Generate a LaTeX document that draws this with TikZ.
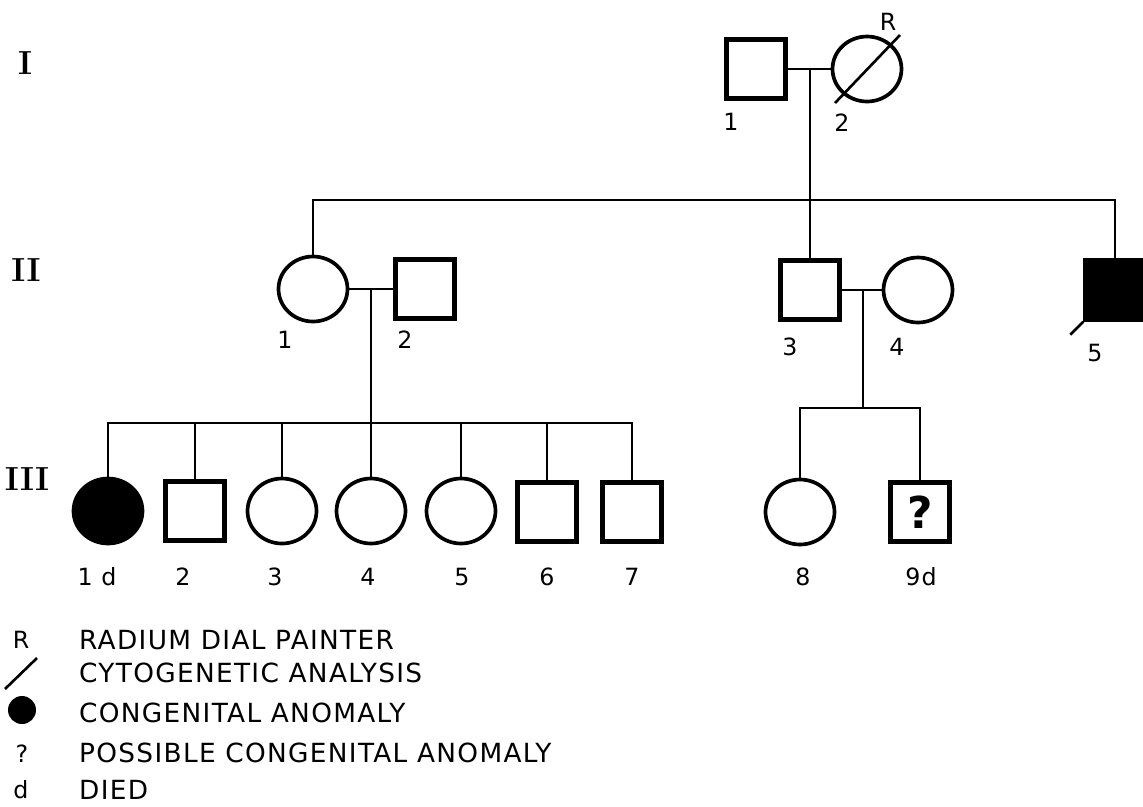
\documentclass[tikz,border=0pt]{standalone}
\usepackage{fontspec}
\setsansfont{DejaVu Sans}[LetterSpace=5]
\usetikzlibrary{shapes.geometric}

\begin{document}
\begin{tikzpicture}[x=0.02cm, y=-0.02cm, line width=1.5pt,
  male/.style={draw,rectangle,line width=2.5pt,minimum size=1.18cm,inner sep=0pt},
  female/.style={draw,ellipse,line width=2.1pt,minimum width=1.38cm,minimum height=1.30cm,inner sep=0pt},
  affected/.style={fill=black},
  num/.style={font=\sffamily\fontsize{13.5}{14}\selectfont},
  gen/.style={font=\rmfamily\bfseries\fontsize{19}{19}\selectfont},
  legend/.style={anchor=west,font=\sffamily\fontsize{15}{16}\selectfont}]
\useasboundingbox (0,0) rectangle (1143,806);
% generation labels
\node[gen] (gI) at (25,63) {I};
\node[gen] (gII) at (26,270) {II};
\node[gen] (gIII) at (27,479) {III};
% generation I
\node[male] (i1) at (756,69) {};
\node[female] (i2) at (867,69) {};
\coordinate (m1) at (810,69);
\draw (i1.east) -- (i2.west);
\draw (i2.center) ++(-32,34) -- ++(65,-68);
\node[num] at (731,122) {1};
\node[num] at (842,123) {2};
\node[num] at (888,22) {R};
% generation II
\node[female] (ii1) at (313,289) {};
\node[male] (ii2) at (425,289) {};
\node[male] (ii3) at (810,290) {};
\node[female] (ii4) at (918,290) {};
\node[male,affected] (ii5) at (1115,290) {};
\draw (ii5.south west) -- ++(-13,13);
\coordinate (s1) at (700,200);
\draw (m1) -- (ii3.north);
\draw (ii1.north) |- (s1) -| (ii5.north);
\coordinate (m2) at (371,289);
\coordinate (m3) at (863,290);
\draw (ii1.east) -- (ii2.west);
\draw (ii3.east) -- (ii4.west);
\node[num] at (285,340) {1};
\node[num] at (405,340) {2};
\node[num] at (790,347) {3};
\node[num] at (897,347) {4};
\node[num] at (1095,353) {5};
% generation III
\node[female,affected] (iii1) at (108,511) {};
\node[male] (iii2) at (195,511) {};
\node[female] (iii3) at (282,511) {};
\node[female] (iii4) at (371,511) {};
\node[female] (iii5) at (461,511) {};
\node[male] (iii6) at (547,512) {};
\node[male] (iii7) at (632,512) {};
\node[female] (iii8) at (800,512) {};
\node[male] (iii9) at (920,512) {\sffamily\bfseries\fontsize{25}{25}\selectfont ?};
\coordinate (s2) at (370,423);
\coordinate (s3) at (863,408);
\draw (m2) -- (iii4.north);
\draw (iii1.north) |- (s2) -| (iii7.north);
\foreach \k in {2,3,5,6}
  \draw (iii\k.north) -- (iii\k.north |- s2);
\draw (m3) -- (s3);
\draw (iii8.north) |- (s3) -| (iii9.north);
\foreach \k/\x/\t in {1/97/1 d,2/183/2,3/275/3,4/368/4,5/462/5,6/547/6,7/632/7,8/803/8,9/921/9d}
  \node[num] (n\k) at (\x,577) {\t};
% legend
\node[num] (k1) at (21,640) {R};
\draw (5,689) -- (37,658);
\node[circle,fill,minimum size=0.56cm,inner sep=0pt] (k3) at (22,710) {};
\node[num] (k4) at (22,754) {?};
\node[num] (k5) at (21,790) {d};
\node[legend] (l1) at (72,640) {RADIUM DIAL PAINTER};
\node[legend] (l2) at (72,673) {CYTOGENETIC ANALYSIS};
\node[legend] (l3) at (72,713) {CONGENITAL ANOMALY};
\node[legend] (l4) at (72,753) {POSSIBLE CONGENITAL ANOMALY};
\node[legend] (l5) at (72,790) {DIED};
\end{tikzpicture}
\end{document}
